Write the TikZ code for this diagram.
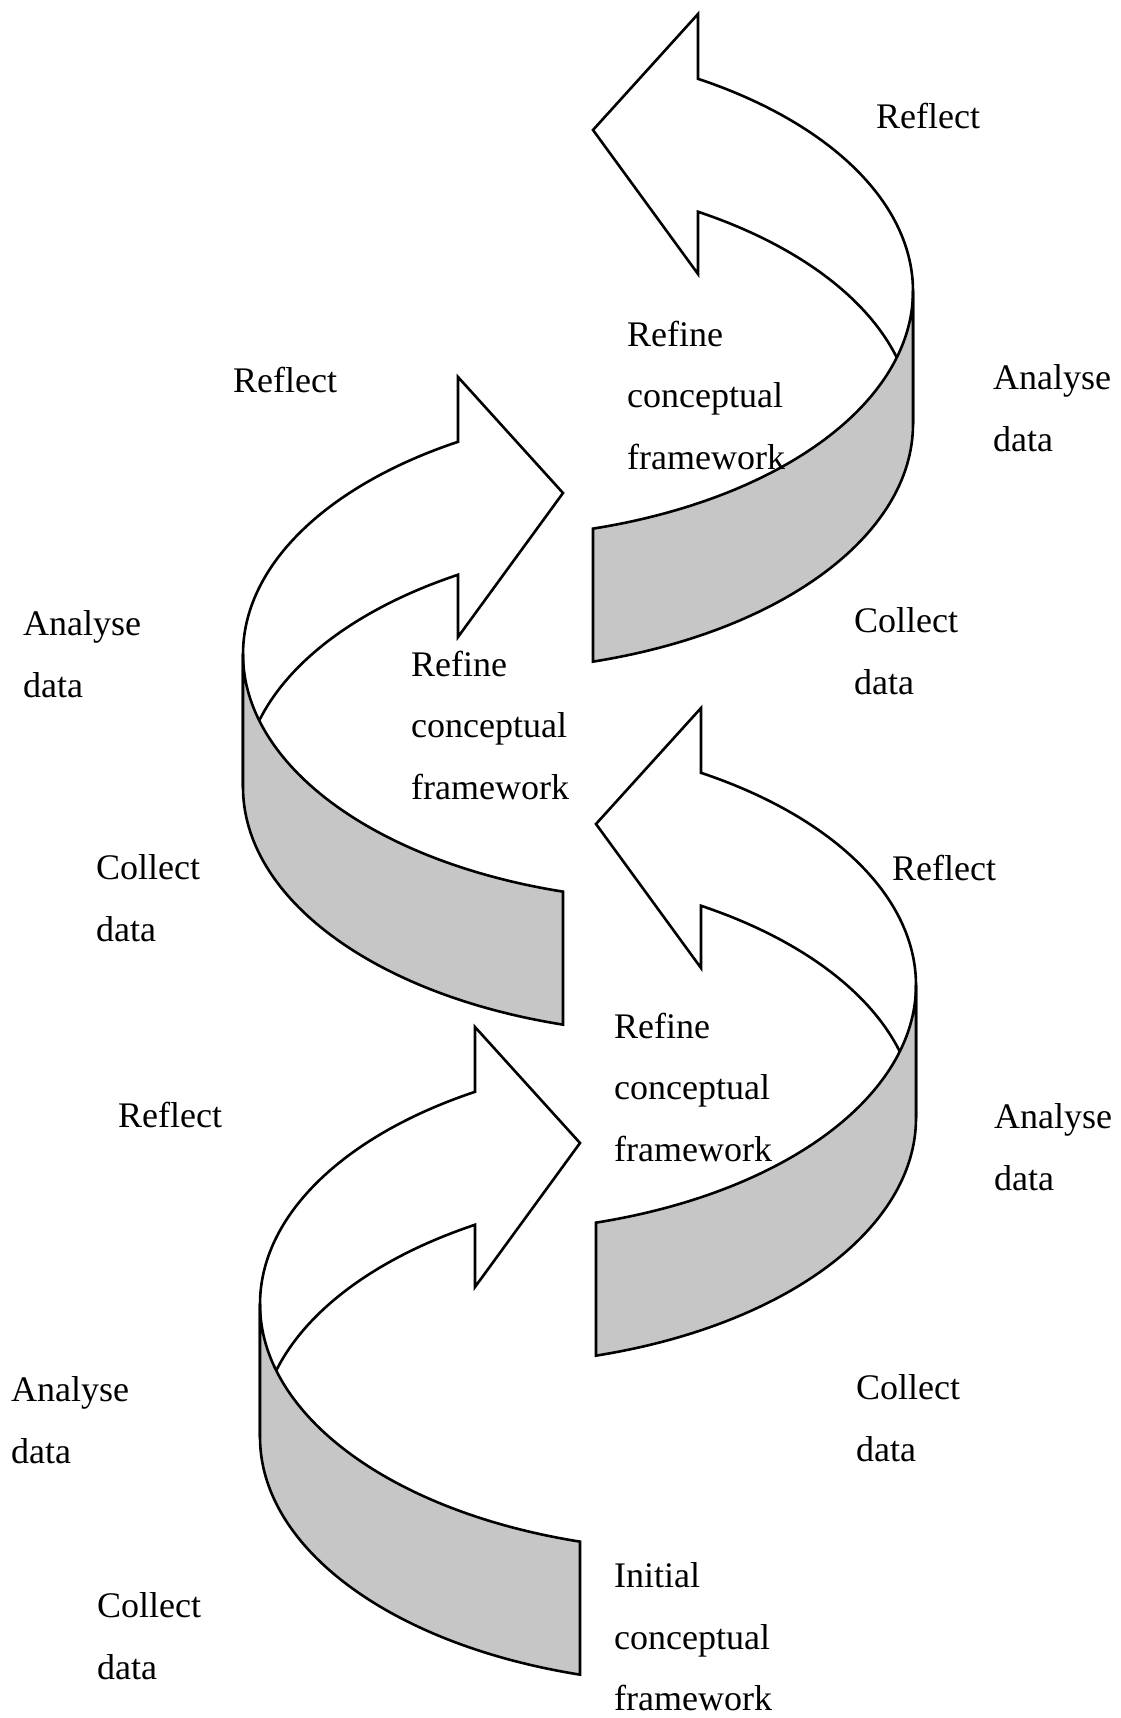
\documentclass[tikz,border=0pt]{standalone}
\usepackage{fontspec}
\setmainfont{Liberation Serif}
\definecolor{ribbongray}{HTML}{C6C6C6}

\begin{document}
\begin{tikzpicture}[x=1pt, y=-1pt,
        band/.style={draw=black, line width=2.6pt, line join=miter},
        lbl/.style={font=\fontsize{36}{61.5}\selectfont, align=left, anchor=west, inner sep=0pt}]
      \useasboundingbox (0,0) rectangle (1121,1718);

      % four curved arrows: centre of the upper ellipse, mirror factor
      \foreach \cx/\cy/\s in {700/1304/1, 683/654/1, 476/985/-1, 473/291/-1} {
        \begin{scope}[shift={(\cx,\cy)}, xscale=\s]
          % white front with the head
          \draw[band, fill=white] (-225,-277) -- (-225,-212.2)
            arc[start angle=239.24, end angle=180, x radius=440, y radius=247]
            -- (-440,133)
            arc[start angle=180, end angle=239.24, x radius=440, y radius=247]
            -- (-225,-17) -- (-120,-161) -- cycle;
          % shaded back of the ribbon
          \draw[band, fill=ribbongray] (-440,0)
            arc[start angle=180, end angle=105.83, x radius=440, y radius=247]
            -- ++(0,133)
            arc[start angle=105.83, end angle=180, x radius=440, y radius=247]
            -- cycle;
        \end{scope}
      }

      % top cycle
      \node[lbl] (reflectA) at (876,116)  {Reflect};
      \node[lbl] (refineA)  at (627,395)  {Refine\\conceptual\\framework};
      \node[lbl] (analyseA) at (993,408)  {Analyse\\data};
      \node[lbl] (collectA) at (854,651)  {Collect\\data};
      % second cycle
      \node[lbl] (reflectB) at (233,380)  {Reflect};
      \node[lbl] (analyseB) at (23,654)   {Analyse\\data};
      \node[lbl] (refineB)  at (411,725)  {Refine\\conceptual\\framework};
      \node[lbl] (collectB) at (96,898)   {Collect\\data};
      % third cycle
      \node[lbl] (reflectC) at (892,868)  {Reflect};
      \node[lbl] (refineC)  at (614,1087) {Refine\\conceptual\\framework};
      \node[lbl] (analyseC) at (994,1147) {Analyse\\data};
      \node[lbl] (collectC) at (856,1418) {Collect\\data};
      % first cycle
      \node[lbl] (reflectD) at (118,1115) {Reflect};
      \node[lbl] (analyseD) at (11,1420)  {Analyse\\data};
      \node[lbl] (collectD) at (97,1636)  {Collect\\data};
      \node[lbl] (initialD) at (614,1637) {Initial\\conceptual\\framework};
    \end{tikzpicture}
\end{document}
